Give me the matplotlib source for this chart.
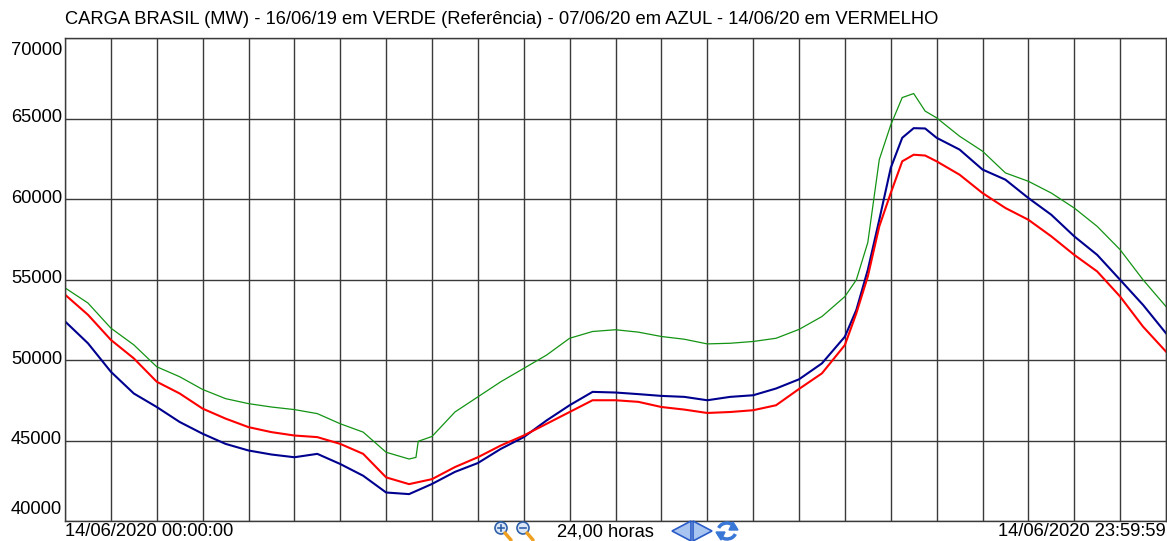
import numpy as np
import matplotlib.pyplot as plt
from matplotlib.patches import Circle, Polygon, Arc
from matplotlib.transforms import offset_copy

plt.rcParams['font.family'] = ['Liberation Sans', 'DejaVu Sans']

# horas do dia (leitura a cada 30 min, 15 min na ponta)
horas = [0, 0.5, 1, 1.5, 2, 2.5, 3, 3.5, 4, 4.5, 5, 5.5, 6, 6.5, 7, 7.5,
         8, 8.5, 9, 9.5, 10, 10.5, 11, 11.5, 12, 12.5, 13, 13.5, 14, 14.5,
         15, 15.5, 16, 16.5, 17, 17.25, 17.5, 17.75, 18, 18.25, 18.5, 18.75,
         19, 19.5, 20, 20.5, 21, 21.5, 22, 22.5, 23, 23.5, 24]

horas_verde = [0, 0.5, 1, 1.5, 2, 2.5, 3, 3.5, 4, 4.5, 5, 5.5, 6, 6.5, 7, 7.5,
               7.65, 7.7, 8, 8.5, 9, 9.5, 10, 10.5, 11, 11.5, 12, 12.5, 13,
               13.5, 14, 14.5, 15, 15.5, 16, 16.5, 17, 17.25, 17.5, 17.75, 18,
               18.25, 18.5, 18.75, 19, 19.5, 20, 20.5, 21, 21.5, 22, 22.5, 23,
               23.5, 24]

# 16/06/19 - referencia
carga_verde = [54480, 53540, 51980, 50940, 49580, 48960, 48170, 47600, 47290,
               47080, 46920, 46670, 46040, 45520, 44270, 43850, 43950, 44950,
               45250, 46770, 47710, 48650, 49480, 50310, 51350, 51770, 51880,
               51730, 51460, 51290, 51000, 51040, 51150, 51350, 51900, 52700,
               53940, 54980, 57300, 62450, 64600, 66300, 66550, 65460, 65040,
               63900, 62970, 61620, 61100, 60370, 59440, 58300, 56850, 54980,
               53320]

# 07/06/20
carga_azul = [52400, 51040, 49270, 47920, 47080, 46150, 45420, 44790, 44380,
              44130, 43960, 44170, 43540, 42810, 41770, 41670, 42300, 43050,
              43600, 44480, 45210, 46250, 47190, 48020, 47980, 47880, 47770,
              47710, 47500, 47710, 47810, 48230, 48800, 49790, 51450, 53110,
              55600, 58710, 61930, 63800, 64400, 64380, 63800, 63070, 61830,
              61200, 60060, 59020, 57680, 56530, 54980, 53420, 51660]

# 14/06/20
carga_vermelho = [54060, 52810, 51250, 50100, 48650, 47920, 46980, 46360,
                  45830, 45520, 45310, 45210, 44790, 44170, 42710, 42290,
                  42600, 43350, 43960, 44690, 45310, 46040, 46770, 47500,
                  47500, 47400, 47080, 46920, 46710, 46770, 46880, 47190,
                  48200, 49170, 50930, 52900, 55190, 58300, 60370, 62340,
                  62750, 62700, 62340, 61510, 60370, 59440, 58710, 57680,
                  56530, 55500, 53940, 52070, 50520]

marcas_y = [40000, 45000, 50000, 55000, 60000, 65000, 70000]

W, H = 1167, 541
FS = 13.25
fig = plt.figure(figsize=(W / 100, H / 100), dpi=100)
ax = fig.add_axes([65 / W, 20 / H, 1101 / W, 483 / H])

ax.plot(horas_verde, carga_verde, color='#139313', lw=0.9)
ax.plot(horas, carga_azul, color='#00008f', lw=1.5)
ax.plot(horas, carga_vermelho, color='#ff0000', lw=1.5)

ax.set_xlim(0, 24)
ax.set_ylim(40000, 70000)
ax.set_xticks(np.arange(0, 25, 1))
ax.set_xticklabels([])
ax.set_yticks(marcas_y)
ax.set_yticklabels([])
ax.tick_params(length=0)
ax.grid(True, color='#3a3a3a', lw=1.0)
ax.set_axisbelow(True)
for s in ax.spines.values():
    s.set_color('#3a3a3a')
    s.set_linewidth(1.0)

# rotulos do eixo y (extremos ficam dentro da area)
for v in marcas_y:
    if v == marcas_y[-1]:
        va, dy = 'top', -4
    elif v == marcas_y[0]:
        va, dy = 'bottom', 3
    else:
        va, dy = 'center', 1
    tr = offset_copy(ax.get_yaxis_transform(), fig=fig, x=-3, y=dy, units='dots')
    ax.text(0, v, str(v), transform=tr, ha='right', va=va, fontsize=FS)

# textos e icones da barra inferior
ov = fig.add_axes([0, 0, 1, 1], facecolor='none')
ov.set_xlim(0, W)
ov.set_ylim(H, 0)
ov.axis('off')

ov.text(65, 20, 'CARGA BRASIL (MW) - 16/06/19 em VERDE (Referência) - 07/06/20 em AZUL - 14/06/20 em VERMELHO',
        fontsize=FS, va='center', ha='left')
ov.text(65, 532, '14/06/2020 00:00:00', fontsize=FS, va='center', ha='left')
ov.text(1166, 532, '14/06/2020 23:59:59', fontsize=FS, va='center', ha='right')
ov.text(557, 532, '24,00 horas', fontsize=FS, va='center', ha='left')

for cx, sinal in [(501, '+'), (523, '-')]:
    ov.plot([cx + 4, cx + 10], [533, 540], color='#f0a020', lw=2.5, solid_capstyle='round')
    ov.add_patch(Circle((cx, 528), 6, facecolor='#dce8f8', edgecolor='#3060a8', lw=1.2))
    ov.plot([cx - 3, cx + 3], [528, 528], color='#3060a8', lw=1.2)
    if sinal == '+':
        ov.plot([cx, cx], [525, 531], color='#3060a8', lw=1.2)

ov.add_patch(Polygon([[672, 531], [691, 521], [691, 541]], closed=True,
                     facecolor='#a8c4f0', edgecolor='#2a5cc8', lw=1.2))
ov.add_patch(Polygon([[693, 521], [693, 541], [712, 531]], closed=True,
                     facecolor='#a8c4f0', edgecolor='#2a5cc8', lw=1.2))
ov.add_patch(Arc((727, 531), 18, 16, theta1=20, theta2=170, color='#3a78d8', lw=2.5))
ov.add_patch(Arc((727, 531), 18, 16, theta1=200, theta2=350, color='#3a78d8', lw=2.5))
ov.add_patch(Polygon([[733, 522], [738, 530], [729, 530]], closed=True, color='#3a78d8'))
ov.add_patch(Polygon([[721, 540], [716, 532], [725, 532]], closed=True, color='#3a78d8'))

fig.savefig('out.png', dpi=100)
